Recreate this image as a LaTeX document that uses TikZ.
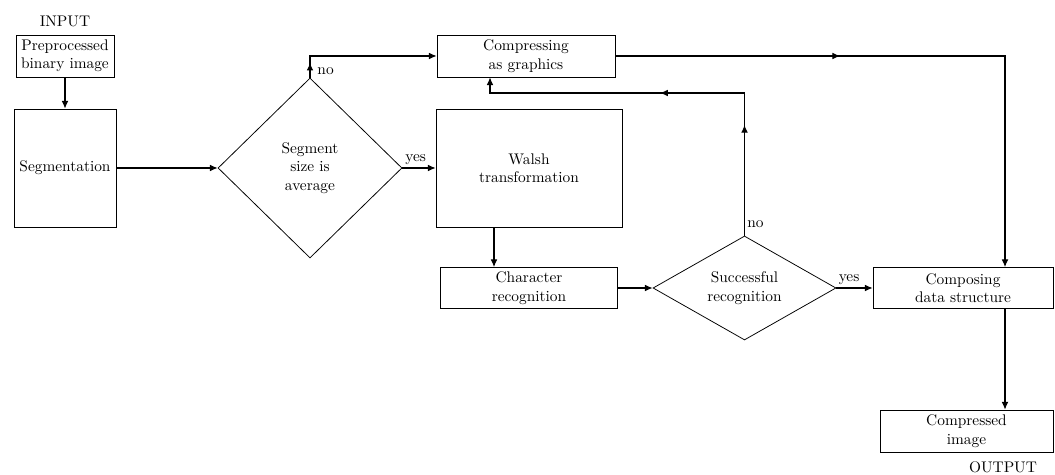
\documentclass[tikz,border=0pt]{standalone}
\usetikzlibrary{shapes.geometric,arrows.meta,decorations.markings}
\begin{document}
\begin{tikzpicture}[x=0.65pt, y=-0.65pt,
  >={Latex[length=5pt,width=4.4pt]},
  box/.style n args={2}{draw, line width=0.5pt, minimum width=#1*0.65pt, minimum height=#2*0.65pt, inner sep=1pt, align=center},
  dia/.style n args={3}{draw, diamond, line width=0.5pt, minimum width=#1*0.65pt, minimum height=#2*0.65pt, aspect=#3, inner sep=0pt, align=center},
  flow/.style={line width=0.7pt},
  arr/.style={flow, ->},
  lab/.style={inner sep=1.5pt},
  midmark/.style={postaction={decorate, decoration={markings, mark=at position #1 with {\arrow{>}}}}}
]
\useasboundingbox (0,0) rectangle (1055,475);

% nodes
\node (in) at (65,21) {INPUT};
\node[box={98}{42}] (A) at (65,56) {Preprocessed\\binary image};
\node[box={102}{118}] (B) at (65,168) {Segmentation};
\node[dia={184}{180}{1.02}] (D1) at (310,168) {Segment\\size is\\average};
\node[box={178}{42}] (C) at (526,56) {Compressing\\as graphics};
\node[box={186}{118}] (W) at (529,168) {Walsh\\transformation};
\node[box={177}{41}] (R) at (529,288) {Character\\recognition};
\node[dia={183}{104}{1.76}] (D2) at (744.5,288) {Successful\\recognition};
\node[box={180}{41}] (K) at (963,288) {Composing\\data structure};
\node[box={173}{42}] (P) at (966.5,431) {Compressed\\image};
\node (out) at (1003,467) {OUTPUT};

% helper coordinates
\coordinate (cx) at (490,0);
\coordinate (wx) at (494,0);
\coordinate (kx) at (1005,0);
\coordinate (ny) at (0,93);

% connectors
\draw[arr] (A) -- (B);
\draw[arr] (B) -- (D1);
\draw[arr] (D1) -- node[lab, above, pos=0.4] {yes} (W);
\draw[arr, midmark=0.1] (D1.north) |- node[lab, right, pos=0.16, xshift=3pt] {no} (C.west);
\draw[arr, midmark=0.374] (C.east) -| (K.north -| kx);
\draw[arr] (K.south -| kx) -- (P.north -| kx);
\draw[arr] (W.south -| wx) -- (R.north -| wx);
\draw[arr] (R) -- (D2);
\draw[arr] (D2) -- node[lab, above, pos=0.35] {yes} (K);
\draw[arr, midmark=0.268, midmark=0.55] (D2.north) |- node[lab, right, pos=0.04] {no} (cx |- ny) -- (C.south -| cx);
\end{tikzpicture}
\end{document}
